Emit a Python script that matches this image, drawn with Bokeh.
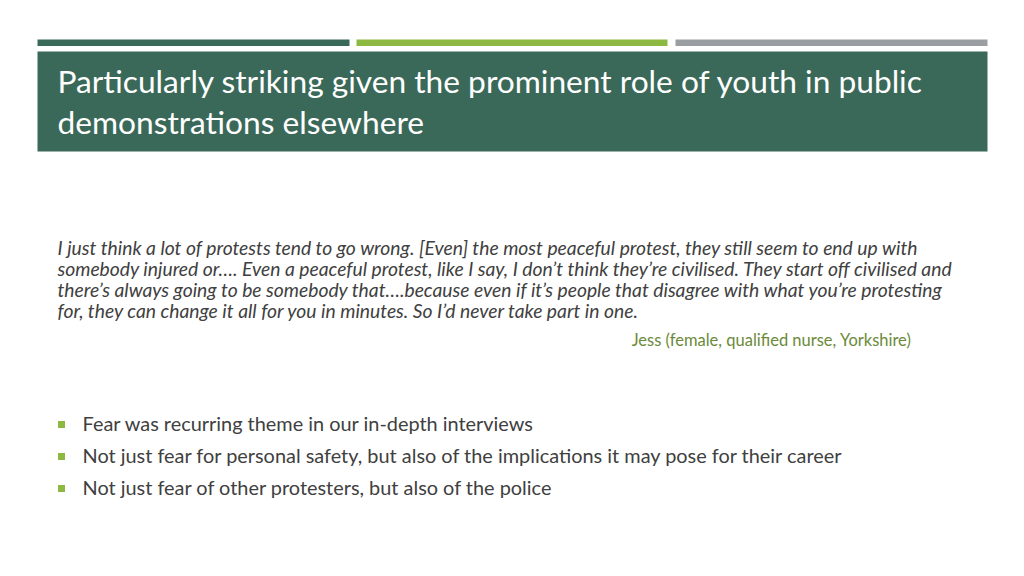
from bokeh.plotting import figure
from bokeh.models import ColumnDataSource, Range1d
from bokeh.core.properties import value
from bokeh.embed import file_html
from bokeh.resources import INLINE

# ---- content ----
title_lines = [
    "Particularly striking given the prominent role of youth in public",
    "demonstrations elsewhere",
]
quote_lines = [
    "I just think a lot of protests tend to go wrong. [Even] the most peaceful protest, they still seem to end up with",
    "somebody injured or…. Even a peaceful protest, like I say, I don’t think they’re civilised. They start off civilised and",
    "there’s always going to be somebody that….because even if it’s people that disagree with what you’re protesting",
    "for, they can change it all for you in minutes. So I’d never take part in one.",
]
attribution = ["Jess (female, qualified nurse, Yorkshire)"]
bullets = [
    "Fear was recurring theme in our in-depth interviews",
    "Not just fear for personal safety, but also of the implications it may pose for their career",
    "Not just fear of other protesters, but also of the police",
]
band_colors = ["#3a6959", "#8cb843", "#9a9ea3"]

FONT = "Lato"

W, H = 1008, 560
p = figure(width=W, height=H, output_backend="svg", toolbar_location=None,
           x_range=Range1d(0, W), y_range=Range1d(H, 0),
           min_border=0, outline_line_color=None)
p.axis.visible = False
p.grid.visible = False
p.background_fill_color = "white"
p.border_fill_color = "white"

# top bands
bx0 = [37, 356, 675]
bx1 = [349, 667, 987]
p.quad(left=bx0, right=bx1, top=[39] * 3, bottom=[45.5] * 3,
       fill_color=band_colors, line_color=None)

# title box
p.quad(left=[37], right=[987], top=[51], bottom=[151],
       fill_color=band_colors[0], line_color=None)
p.text(x=[57] * len(title_lines), y=[80, 121], text=title_lines,
       text_color="white", text_font=value(FONT), text_font_size=value("31.7px"),
       text_baseline="middle", text_align="left")

# quote
p.text(x=[57] * len(quote_lines), y=[247, 268, 289, 310], text=quote_lines,
       text_color="#404040", text_font=value(FONT), text_font_style="italic",
       text_font_size=value("19.3px"), text_baseline="middle", text_align="left")

# attribution
p.text(x=[911], y=[339.5], text=attribution, text_color="#6b8a3a",
       text_font=value(FONT), text_font_size=value("16.5px"),
       text_baseline="middle", text_align="right")

# bullets
by = [422.5, 454.5, 486.5]
p.scatter(x=[61] * 3, y=[424, 456, 488], marker="square", size=7,
          fill_color="#8cb843", line_color=None)
p.text(x=[82] * 3, y=by, text=bullets, text_color="#404040",
       text_font=value(FONT), text_font_size=value("19.9px"),
       text_baseline="middle", text_align="left")

open("out.html", "w").write(file_html(p, INLINE))
